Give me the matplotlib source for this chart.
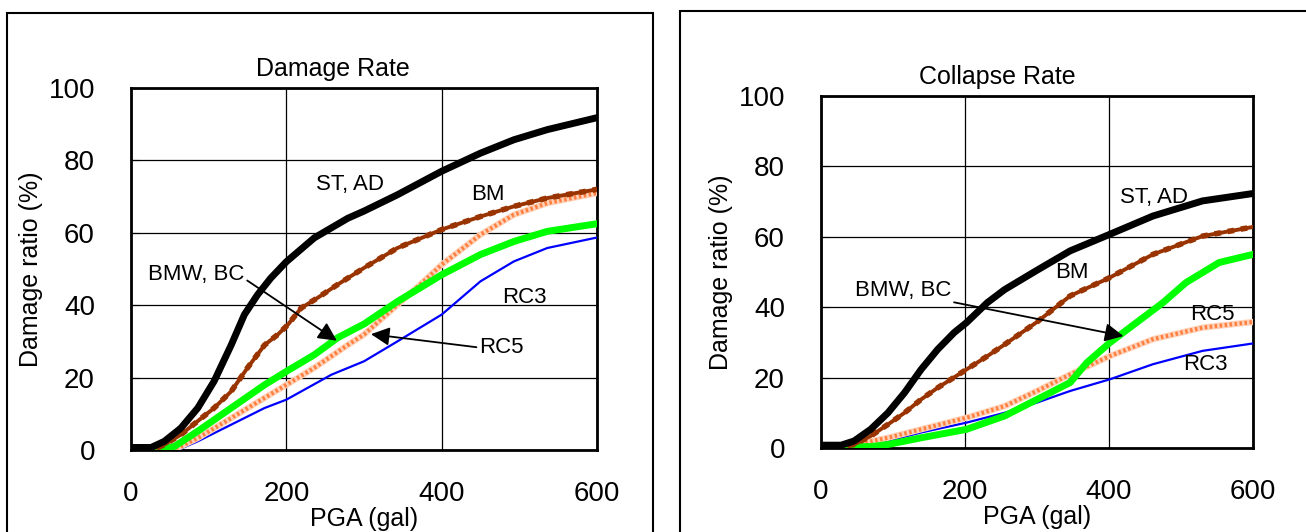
import matplotlib
matplotlib.use('Agg')
import matplotlib.pyplot as plt
from matplotlib.patches import Rectangle

plt.rcParams['font.family'] = ['Liberation Sans', 'DejaVu Sans']

# Damage Rate (left panel), PGA in gal, ratio in %
dmg_st_x = [0, 26, 43, 64, 86, 107, 129, 146, 163, 180, 200, 236, 279, 300, 343, 400, 450, 493, 536, 600]
dmg_st_y = [0.7, 0.7, 2.4, 6, 11.6, 19, 29, 37.4, 42.9, 47.5, 52, 58.6, 64, 66, 70.5, 77, 82, 85.7, 88.5, 91.8]
dmg_bm_x = [0, 35, 43, 64, 86, 107, 129, 150, 172, 189, 202, 219, 240, 266, 300, 343, 400, 450, 493, 536, 600]
dmg_bm_y = [0.7, 0.7, 1.5, 4.2, 8, 11.6, 16.2, 22.7, 29, 31.9, 34.6, 39.2, 42, 45.7, 50.3, 55.8, 60.9, 64.5, 67.3, 69.6, 72]
dmg_bmw_x = [0, 45, 56, 86, 129, 172, 200, 236, 266, 300, 343, 400, 450, 493, 536, 600]
dmg_bmw_y = [0.5, 0.5, 1, 5.2, 11.6, 18, 21.7, 26.3, 31, 34.8, 41, 48.4, 54, 57.6, 60.4, 62.5]
dmg_rc5_x = [0, 55, 64, 86, 129, 172, 200, 236, 279, 300, 343, 377, 400, 450, 493, 536, 600]
dmg_rc5_y = [0.3, 0.3, 1, 3.3, 8.8, 14.4, 18, 22.7, 29, 31.9, 40.1, 46.6, 51.2, 59.5, 65, 68.2, 71]
dmg_rc3_x = [0, 60, 86, 129, 172, 200, 258, 300, 343, 400, 450, 493, 536, 600]
dmg_rc3_y = [0, 0, 2.4, 7, 11.6, 13.9, 20.8, 24.5, 30, 37.4, 46.6, 52.1, 55.8, 58.7]

# Collapse Rate (right panel)
col_st_x = [0, 28, 46, 69, 93, 116, 139, 162, 185, 202, 231, 255, 300, 346, 401, 461, 530, 600]
col_st_y = [0.8, 0.8, 2, 5.3, 10, 15.7, 22.3, 28, 32.8, 35.6, 41.3, 45, 50.5, 56, 60.7, 65.9, 70.2, 72.3]
col_bm_x = [0, 40, 46, 69, 93, 116, 139, 162, 202, 231, 255, 300, 346, 401, 461, 530, 600]
col_bm_y = [0.8, 0.8, 1, 3.4, 6.7, 10, 13.8, 17.1, 22.3, 26.1, 29.4, 35.8, 43.2, 48.4, 55, 60.2, 62.8]
col_bmw_x = [0, 69, 93, 139, 202, 255, 300, 346, 369, 401, 438, 475, 507, 553, 600]
col_bmw_y = [0.4, 0.4, 1, 2.9, 5.3, 9.1, 13.8, 18.6, 24.2, 29.9, 35.6, 41.3, 47, 52.7, 55]
col_rc5_x = [0, 45, 60, 93, 139, 202, 255, 300, 346, 401, 461, 530, 600]
col_rc5_y = [0.4, 0.4, 1.5, 2.9, 5.3, 8.6, 11.9, 16.2, 20.9, 26.1, 30.9, 34.2, 35.8]
col_rc3_x = [0, 46, 93, 139, 202, 255, 300, 346, 401, 461, 530, 600]
col_rc3_y = [0, 0, 2, 4.4, 7.2, 10, 12.9, 16.2, 19.5, 23.8, 27.6, 29.7]

x_ticks = [0, 200, 400, 600]
y_ticks = [0, 20, 40, 60, 80, 100]


def draw_panel(ax, st, bm, bmw, rc5, rc3):
	ax.set_xlim(0, 600)
	ax.set_ylim(0, 100)
	ax.set_xticks(x_ticks)
	ax.set_yticks(y_ticks)
	ax.grid(True, color='black', linewidth=0.9)
	ax.set_axisbelow(True)
	for s in ax.spines.values():
		s.set_linewidth(2)
	ax.tick_params(axis='x', length=0, pad=22, labelsize=20)
	ax.tick_params(axis='y', direction='in', length=6, pad=26, labelsize=20)
	ax.plot(rc3[0], rc3[1], color='#0000FF', linewidth=1.6, zorder=3)
	ax.plot(rc5[0], rc5[1], color='#FFD2B8', linewidth=4.5, zorder=4)
	ax.plot(rc5[0], rc5[1], color='#FF7F40', linewidth=3, linestyle=(0, (0.6, 0.6)), zorder=4)
	ax.plot(bmw[0], bmw[1], color='#00FF00', linewidth=5, zorder=5)
	ax.plot(bm[0], bm[1], color='#993300', linewidth=2.8, zorder=6)
	ax.plot(bm[0], bm[1], color='#993300', linewidth=4, linestyle=(0, (1.2, 1.2)), zorder=6)
	ax.plot(st[0], st[1], color='black', linewidth=5, zorder=7, solid_joinstyle='round')
	ax.set_xlabel('PGA (gal)', fontsize=18, labelpad=0)
	ax.set_ylabel('Damage ratio (%)', fontsize=18, labelpad=4)


fig = plt.figure(figsize=(13.06, 5.32), dpi=100)

# outer frames of the two panels
fig.patches.append(Rectangle((7 / 1306, -0.1), 646 / 1306, 1.1 - 13 / 532, transform=fig.transFigure,
	fill=False, edgecolor='black', linewidth=1.5))
fig.patches.append(Rectangle((680 / 1306, -0.1), 0.5, 1.1 - 11 / 532, transform=fig.transFigure,
	fill=False, edgecolor='black', linewidth=1.5))

ax1 = fig.add_axes([131 / 1306, 82 / 532, 466 / 1306, 362 / 532])
draw_panel(ax1, (dmg_st_x, dmg_st_y), (dmg_bm_x, dmg_bm_y), (dmg_bmw_x, dmg_bmw_y),
	(dmg_rc5_x, dmg_rc5_y), (dmg_rc3_x, dmg_rc3_y))
ax1.text(260, 102, 'Damage Rate', fontsize=18, ha='center', va='bottom')
ax1.text(282, 73.3, 'ST, AD', fontsize=16, ha='center', va='center')
ax1.text(460, 70.5, 'BM', fontsize=16, ha='center', va='center')
ax1.text(507, 42, 'RC3', fontsize=16, ha='center', va='center')
ax1.annotate('BMW, BC', xy=(265, 30.2), xytext=(84, 48.5), fontsize=16, ha='center', va='center',
	arrowprops=dict(arrowstyle='-|>', color='black', lw=1.3, mutation_scale=28, shrinkA=0, shrinkB=0,
		relpos=(1.0, 0.3)), zorder=9)
ax1.annotate('RC5', xy=(309, 32), xytext=(477, 28.3), fontsize=16, ha='center', va='center',
	arrowprops=dict(arrowstyle='-|>', color='black', lw=1.3, mutation_scale=28, shrinkA=0, shrinkB=0,
		relpos=(0.0, 0.5)), zorder=9)

ax2 = fig.add_axes([821 / 1306, 84 / 532, 432 / 1306, 352 / 532])
draw_panel(ax2, (col_st_x, col_st_y), (col_bm_x, col_bm_y), (col_bmw_x, col_bmw_y),
	(col_rc5_x, col_rc5_y), (col_rc3_x, col_rc3_y))
ax2.text(245, 102, 'Collapse Rate', fontsize=18, ha='center', va='bottom')
ax2.text(463, 71.3, 'ST, AD', fontsize=16, ha='center', va='center')
ax2.text(349, 49.8, 'BM', fontsize=16, ha='center', va='center')
ax2.text(543, 38, 'RC5', fontsize=16, ha='center', va='center')
ax2.text(534, 23.6, 'RC3', fontsize=16, ha='center', va='center')
ax2.annotate('BMW, BC', xy=(420, 31.8), xytext=(114, 44.8), fontsize=16, ha='center', va='center',
	arrowprops=dict(arrowstyle='-|>', color='black', lw=1.3, mutation_scale=28, shrinkA=0, shrinkB=0,
		relpos=(0.95, 0.0)), zorder=9)

fig.savefig('out.png', dpi=100)
